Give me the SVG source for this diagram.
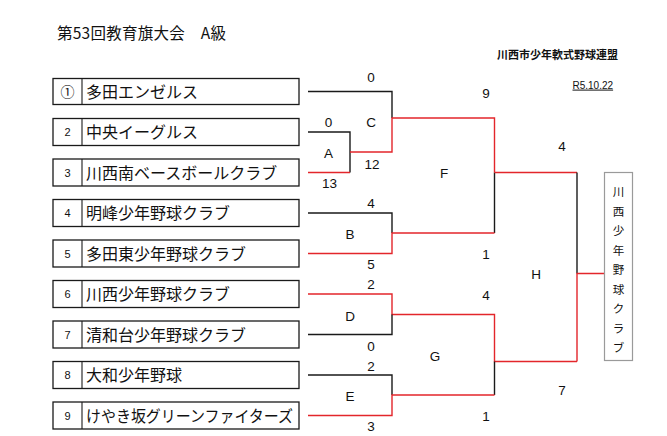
<svg xmlns="http://www.w3.org/2000/svg" width="667" height="436" viewBox="0 0 667 436">
<style>
.box{fill:#fff;stroke:#1a1a1a;stroke-width:1.3}
.div{stroke:#1a1a1a;stroke-width:1.1}
.name{font-family:"Noto Sans CJK JP","Noto Sans CJK SC",sans-serif;font-size:16px;fill:#111}
.num{font-family:"Liberation Sans",Arial,sans-serif;font-size:11px;fill:#111;text-anchor:middle}
.lbl{font-family:"Liberation Sans",Arial,sans-serif;font-size:13.5px;fill:#111;text-anchor:middle}
.k{fill:none;stroke:#1a1a1a;stroke-width:1.4}
.r{fill:none;stroke:#e3262b;stroke-width:1.4}
.champ{fill:#fff;stroke:#9a9a9a;stroke-width:1.2}
.ct{font-family:"Noto Sans CJK JP","Noto Sans CJK SC",sans-serif;font-size:11.5px;fill:#111;text-anchor:middle}
</style>
<rect width="667" height="436" fill="#fff"/>
<text x="57" y="38.5" font-family="'Noto Sans CJK JP','Noto Sans CJK SC',sans-serif" font-size="15.5" fill="#111" textLength="169" lengthAdjust="spacing">第53回教育旗大会　A級</text>
<text x="497" y="59.2" font-family="'Noto Sans CJK JP','Noto Sans CJK SC',sans-serif" font-size="11" font-weight="bold" fill="#111">川西市少年軟式野球連盟</text>
<text x="572.5" y="88.6" font-family="'Liberation Sans',Arial,sans-serif" font-size="10" fill="#111" text-decoration="underline">R5.10.22</text>

<g id="team1"><rect class="box" x="53" y="78.5" width="246" height="26"/><line class="div" x1="82" y1="78.5" x2="82" y2="104.5"/><text x="67.5" y="96.5" font-family="'Noto Sans CJK JP',sans-serif" font-size="14" fill="#111" text-anchor="middle">①</text><text class="name" x="86" y="97.5">多田エンゼルス</text></g>
<g id="team2"><rect class="box" x="53" y="118.5" width="246" height="27"/><line class="div" x1="82" y1="118.5" x2="82" y2="145.5"/><text class="num" x="67.5" y="136">2</text><text class="name" x="86" y="138">中央イーグルス</text></g>
<g id="team3"><rect class="box" x="53" y="159" width="246" height="27"/><line class="div" x1="82" y1="159" x2="82" y2="186"/><text class="num" x="67.5" y="176.5">3</text><text class="name" x="86" y="178.5">川西南ベースボールクラブ</text></g>
<g id="team4"><rect class="box" x="53" y="199.5" width="246" height="27"/><line class="div" x1="82" y1="199.5" x2="82" y2="226.5"/><text class="num" x="67.5" y="217">4</text><text class="name" x="86" y="219">明峰少年野球クラブ</text></g>
<g id="team5"><rect class="box" x="53" y="240" width="246" height="27"/><line class="div" x1="82" y1="240" x2="82" y2="267"/><text class="num" x="67.5" y="257.5">5</text><text class="name" x="86" y="259.5">多田東少年野球クラブ</text></g>
<g id="team6"><rect class="box" x="53" y="280.5" width="246" height="27"/><line class="div" x1="82" y1="280.5" x2="82" y2="307.5"/><text class="num" x="67.5" y="298">6</text><text class="name" x="86" y="300">川西少年野球クラブ</text></g>
<g id="team7"><rect class="box" x="53" y="321" width="246" height="27"/><line class="div" x1="82" y1="321" x2="82" y2="348"/><text class="num" x="67.5" y="338.5">7</text><text class="name" x="86" y="340.5">清和台少年野球クラブ</text></g>
<g id="team8"><rect class="box" x="53" y="361.5" width="246" height="27"/><line class="div" x1="82" y1="361.5" x2="82" y2="388.5"/><text class="num" x="67.5" y="379">8</text><text class="name" x="86" y="381">大和少年野球</text></g>
<g id="team9"><rect class="box" x="53" y="402" width="246" height="27"/><line class="div" x1="82" y1="402" x2="82" y2="429"/><text class="num" x="67.5" y="419.5">9</text><text class="name" x="86" y="421.5" textLength="207" lengthAdjust="spacingAndGlyphs">けやき坂グリーンファイターズ</text></g>

<g id="connectors">
<path class="k" d="M308 91.5H392V118"/>
<path class="k" d="M308 132H350V172.5"/>
<path class="r" d="M308 172.5H350"/>
<path class="r" d="M350 152H392V118H494.5V172.5"/>
<path class="k" d="M494.5 172.5V233"/>
<path class="r" d="M494.5 172.5H577"/>
<path class="k" d="M577 172.5V273.5"/>
<path class="r" d="M577 361.5V273.5H604.5"/>
<path class="k" d="M308 213H392V233"/>
<path class="r" d="M308 253.5H392V233H494.5"/>
<path class="r" d="M308 294H392V314.5H494.5V361.5H577"/>
<path class="k" d="M392 314.5V334.5H308"/>
<path class="k" d="M494.5 361.5V395"/>
<path class="k" d="M308 375H392V395"/>
<path class="r" d="M308 415.5H392V395H494.5"/>
</g>

<g id="match-A"><text class="lbl" x="328.5" y="158">A</text></g>
<g id="match-B"><text class="lbl" x="350" y="238.5">B</text></g>
<g id="match-C"><text class="lbl" x="371" y="127">C</text></g>
<g id="match-D"><text class="lbl" x="350" y="320.5">D</text></g>
<g id="match-E"><text class="lbl" x="350" y="400.5">E</text></g>
<g id="match-F"><text class="lbl" x="444" y="178">F</text></g>
<g id="match-G"><text class="lbl" x="435" y="361">G</text></g>
<g id="match-H"><text class="lbl" x="536" y="279">H</text></g>

<g id="scores">
<text class="lbl" x="328.5" y="127">0</text>
<text class="lbl" x="329.5" y="187.5">13</text>
<text class="lbl" x="371" y="81.5">0</text>
<text class="lbl" x="372" y="168.8">12</text>
<text class="lbl" x="371" y="208">4</text>
<text class="lbl" x="371" y="269">5</text>
<text class="lbl" x="371" y="289">2</text>
<text class="lbl" x="371" y="350.5">0</text>
<text class="lbl" x="371" y="370.5">2</text>
<text class="lbl" x="371" y="430.5">3</text>
<text class="lbl" x="486" y="97.5">9</text>
<text class="lbl" x="486" y="259">1</text>
<text class="lbl" x="486" y="299.5">4</text>
<text class="lbl" x="486" y="421">1</text>
<text class="lbl" x="562" y="150.5">4</text>
<text class="lbl" x="562" y="394.5">7</text>
</g>

<g id="champion">
<rect class="champ" x="604.5" y="172.5" width="28" height="188"/>
<text class="ct"><tspan x="618.5" y="196">川</tspan><tspan x="618.5" y="215.5">西</tspan><tspan x="618.5" y="235">少</tspan><tspan x="618.5" y="254.5">年</tspan><tspan x="618.5" y="274">野</tspan><tspan x="618.5" y="293.5">球</tspan><tspan x="618.5" y="313">ク</tspan><tspan x="618.5" y="332.5">ラ</tspan><tspan x="618.5" y="352">ブ</tspan></text>
</g>
</svg>
